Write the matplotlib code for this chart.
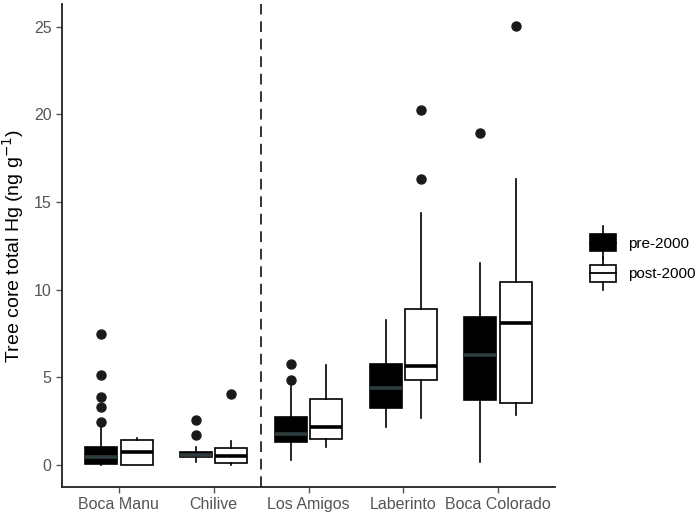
import matplotlib.pyplot as plt
from matplotlib.legend_handler import HandlerBase
from matplotlib.patches import Rectangle
from matplotlib.lines import Line2D

plt.rcParams['font.family'] = ['Liberation Sans', 'DejaVu Sans']

# Sitios y periodos
sites = ['Boca Manu', 'Chilive', 'Los Amigos', 'Laberinto', 'Boca Colorado']
periods = ['pre-2000', 'post-2000']

# Estadisticos (ng g-1)
pre_whislo = [0.0, 0.19, 0.28, 2.18, 0.19]
pre_q1 = [0.08, 0.44, 1.33, 3.28, 3.69]
pre_med = [0.47, 0.59, 1.80, 4.39, 6.27]
pre_q3 = [1.04, 0.76, 2.75, 5.74, 8.43]
pre_whishi = [2.3, 1.04, 4.49, 8.30, 11.52]
pre_fliers = [[7.48, 5.13, 3.86, 3.30, 2.46], [2.56, 1.70], [5.74, 4.87], [], [18.94]]

post_whislo = [0.0, 0.0, 1.04, 2.71, 2.84]
post_q1 = [0.03, 0.09, 1.48, 4.87, 3.56]
post_med = [0.77, 0.53, 2.18, 5.63, 8.11]
post_q3 = [1.41, 1.0, 3.79, 8.90, 10.47]
post_whishi = [1.56, 1.36, 5.68, 14.38, 16.29]
post_fliers = [[], [4.03], [], [16.32, 20.28], [25.04]]


def make_stats(lo, q1, med, q3, hi, fl):
    return [dict(whislo=a, q1=b, med=c, q3=d, whishi=e, fliers=f)
            for a, b, c, d, e, f in zip(lo, q1, med, q3, hi, fl)]


pre_stats = make_stats(pre_whislo, pre_q1, pre_med, pre_q3, pre_whishi, pre_fliers)
post_stats = make_stats(post_whislo, post_q1, post_med, post_q3, post_whishi, post_fliers)

fig = plt.figure(figsize=(6.99, 5.13), dpi=100)
ax = fig.add_axes([0.0887, 0.0507, 0.7053, 0.9415])

x = list(range(1, len(sites) + 1))
off = 0.1875
w = 0.3375
lw = 1.2

for stats, shift, fill, medc in [(pre_stats, -off, 'black', '#2E3D3D'),
                                 (post_stats, off, 'white', 'black')]:
    ax.bxp(stats, positions=[p + shift for p in x], widths=w, patch_artist=True,
           showcaps=False,
           boxprops=dict(facecolor=fill, edgecolor='black', linewidth=lw),
           whiskerprops=dict(color='black', linewidth=lw),
           medianprops=dict(color=medc, linewidth=2.6),
           flierprops=dict(marker='o', markerfacecolor='#1a1a1a', markeredgecolor='#1a1a1a',
                           markersize=6.5, linestyle='none'),
           manage_ticks=False, zorder=3)

ax.axvline(2.5, color='#333333', linewidth=1.4, linestyle=(0, (5.5, 3.5)), zorder=2)

ax.set_xlim(0.4, 5.6)
ax.set_ylim(-1.25, 26.3)
ax.set_xticks(x)
ax.set_xticklabels(sites)
ax.set_yticks([0, 5, 10, 15, 20, 25])
ax.tick_params(colors='#555555', labelsize=11.5, length=4, width=1)
ax.tick_params(axis='both', labelcolor='#555555')
for s in ['top', 'right']:
    ax.spines[s].set_visible(False)
for s in ['left', 'bottom']:
    ax.spines[s].set_linewidth(1.3)
    ax.spines[s].set_color('#222222')
ax.set_ylabel('Tree core total Hg (ng g$^{-1}$)', fontsize=14, labelpad=6)


# Clave de leyenda con forma de boxplot
class BoxHandler(HandlerBase):
    def __init__(self, fill, medc):
        super().__init__()
        self.fill = fill
        self.medc = medc

    def create_artists(self, legend, orig_handle, xdescent, ydescent, width,
                       height, fontsize, trans):
        cx = width / 2 - xdescent
        y0 = -ydescent
        r = Rectangle((-xdescent, y0 + height * 0.12), width, height * 0.76,
                      facecolor=self.fill, edgecolor='black', linewidth=lw, transform=trans)
        l1 = Line2D([cx, cx], [y0 - height * 0.2, y0 + height * 0.12],
                    color='black', linewidth=lw, transform=trans)
        l2 = Line2D([cx, cx], [y0 + height * 0.88, y0 + height * 1.2],
                    color='black', linewidth=lw, transform=trans)
        m = Line2D([-xdescent, -xdescent + width], [y0 + height / 2] * 2,
                   color=self.medc, linewidth=1.3, transform=trans)
        return [r, l1, l2, m]


h_pre = Rectangle((0, 0), 1, 1)
h_post = Rectangle((0, 0), 1, 1)
fig.legend([h_pre, h_post], periods,
           handler_map={h_pre: BoxHandler('black', 'black'), h_post: BoxHandler('white', 'black')},
           loc='center left', bbox_to_anchor=(0.824, 0.497), frameon=False, fontsize=11,
           handlelength=1.7, handleheight=1.95, labelspacing=0.5, handletextpad=0.8)

fig.savefig('out.png', dpi=100)
